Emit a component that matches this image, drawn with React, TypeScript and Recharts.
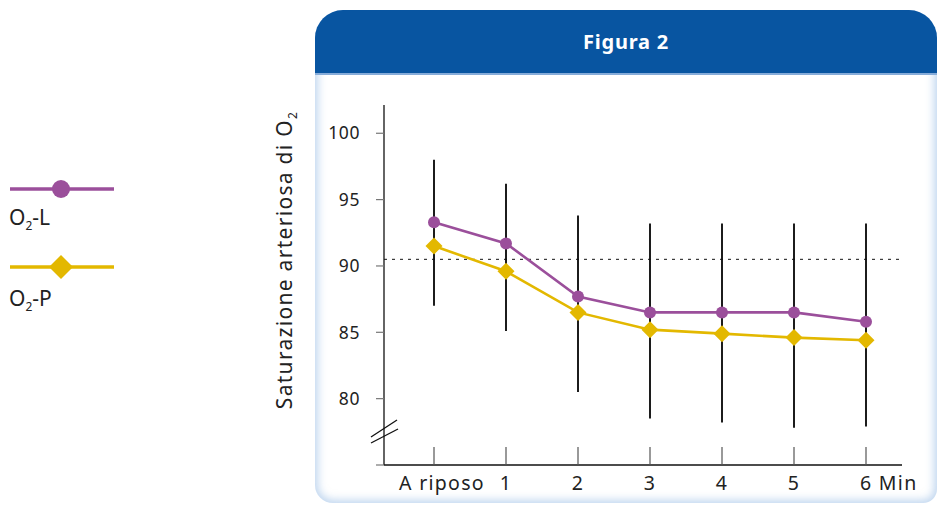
import React from "react"
import {
  ComposedChart,
  Bar,
  Line,
  XAxis,
  YAxis,
  ReferenceLine,
  Label,
} from "recharts"

const categories = ["A riposo", "1", "2", "3", "4", "5", "6 Min"]
const o2L = [93.3, 91.7, 87.7, 86.5, 86.5, 86.5, 85.8]
const o2P = [91.5, 89.6, 86.5, 85.2, 84.9, 84.6, 84.4]
const errLow = [87.0, 85.1, 80.5, 78.5, 78.2, 77.8, 77.9]
const errHigh = [98.0, 96.2, 93.8, 93.2, 93.2, 93.2, 93.2]
const yTicks = [75, 80, 85, 90, 95, 100]
const refLevel = 90.5

const PURPLE = "#9b4f9b"
const YELLOW = "#e3b800"
const FONT = "'Noto Sans', sans-serif"

const data = categories.map((name, i) => ({
  name,
  L: o2L[i],
  P: o2P[i],
  err: [errLow[i], errHigh[i]],
}))

const Diamond = (props: any) => {
  const { cx, cy, index } = props
  if (cx == null || cy == null) return null
  const s = 8.5
  return (
    <polygon
      key={`dia-${index}`}
      points={`${cx},${cy - s} ${cx + s},${cy} ${cx},${cy + s} ${cx - s},${cy}`}
      fill={YELLOW}
    />
  )
}

const XTick = (props: any) => {
  const { x, y, payload } = props
  const label: string = payload.value
  let anchor: "middle" | "start" = "middle"
  let tx = x
  if (label === "A riposo") tx = x + 8
  if (label === "6 Min") {
    anchor = "start"
    tx = x - 6
  }
  return (
    <g>
      <line x1={x} x2={x} y1={y - 18} y2={y} stroke="#555" strokeWidth={1.2} />
      <text
        x={tx}
        y={y + 25}
        textAnchor={anchor}
        fill="#222"
        fontSize={19.5}
        fontFamily={FONT}
        letterSpacing={1.3}
      >
        {label}
      </text>
    </g>
  )
}

const YTitle = (props: any) => {
  const { viewBox } = props
  const x = viewBox.x + 28
  const y = viewBox.y + viewBox.height / 2 - 25
  return (
    <text
      x={x}
      y={y}
      transform={`rotate(-90 ${x} ${y})`}
      textAnchor="middle"
      fill="#222"
      fontSize={21}
      fontFamily={FONT}
      letterSpacing={1.3}
    >
      Saturazione arteriosa di O
      <tspan fontSize={12} dy={5}>
        2
      </tspan>
    </text>
  )
}

function LegendBox() {
  return (
    <svg
      width={130}
      height={320}
      style={{ position: "absolute", left: 0, top: 0 }}
    >
      <line x1={10} x2={114} y1={189} y2={189} stroke={PURPLE} strokeWidth={3.5} />
      <circle cx={61} cy={189} r={9} fill={PURPLE} />
      <text x={9} y={225} fontSize={21} fill="#222" fontFamily={FONT}>
        O<tspan fontSize={12} dy={5}>2</tspan>
        <tspan dy={-5}>-L</tspan>
      </text>
      <line x1={10} x2={114} y1={267} y2={267} stroke={YELLOW} strokeWidth={3.5} />
      <polygon points="61,255 73,267 61,279 49,267" fill={YELLOW} />
      <text x={9} y={306} fontSize={21} fill="#222" fontFamily={FONT}>
        O<tspan fontSize={12} dy={5}>2</tspan>
        <tspan dy={-5}>-P</tspan>
      </text>
    </svg>
  )
}

export default function App() {
  return (
    <div
      style={{
        position: "absolute",
        left: 0,
        top: 0,
        width: 940,
        height: 507,
        background: "#fff",
        overflow: "hidden",
        fontFamily: FONT,
      }}
    >
      <div
        style={{
          position: "absolute",
          left: 315,
          top: 10,
          width: 622,
          height: 493,
          borderRadius: "28px 28px 14px 18px",
          background: "#fff",
          boxShadow: "inset 0 0 9px 3px rgba(140,180,225,0.55)",
          overflow: "hidden",
        }}
      >
        <div
          style={{
            height: 63,
            background: "#0855a1",
            borderBottom: "2px solid #86acd9",
            color: "#fff",
            fontWeight: 700,
            fontSize: 20,
            textAlign: "center",
            lineHeight: "63px",
            letterSpacing: 0.8,
          }}
        >
          Figura 2
        </div>
      </div>
      <LegendBox />
      <div style={{ position: "absolute", left: 0, top: 0 }}>
        <ComposedChart
          width={940}
          height={507}
          data={data}
          margin={{ top: 105, right: 38, bottom: 0, left: 264 }}
        >
          <XAxis
            dataKey="name"
            height={42}
            padding={{ left: 14, right: 0 }}
            axisLine={{ stroke: "#111", strokeWidth: 1.3 }}
            tickLine={false}
            tickSize={0}
            tickMargin={0}
            tick={<XTick />}
            interval={0}
          />
          <YAxis
            width={120}
            domain={[75, 102.13]}
            allowDataOverflow
            ticks={yTicks}
            tickFormatter={(v: number) => (v === 75 ? "" : String(v))}
            axisLine={{ stroke: "#111", strokeWidth: 1.3 }}
            tickLine={{ stroke: "#777", strokeWidth: 1.2 }}
            tickSize={8}
            tickMargin={16}
            tick={{ fill: "#222", fontSize: 17.5, fontFamily: FONT, letterSpacing: 0.6 }}
          >
            <Label content={<YTitle />} />
          </YAxis>
          <ReferenceLine
            y={refLevel}
            stroke="#111"
            strokeWidth={1}
            strokeDasharray="3 5"
          />
          <Bar dataKey="err" barSize={2} fill="#1c1c1c" isAnimationActive={false} />
          <Line
            dataKey="P"
            stroke={YELLOW}
            strokeWidth={2.6}
            dot={<Diamond />}
            activeDot={false}
            isAnimationActive={false}
          />
          <Line
            dataKey="L"
            stroke={PURPLE}
            strokeWidth={2.6}
            dot={{ r: 6, fill: PURPLE, stroke: "none" }}
            activeDot={false}
            isAnimationActive={false}
          />
        </ComposedChart>
      </div>
      <svg
        width={40}
        height={40}
        style={{ position: "absolute", left: 365, top: 415 }}
      >
        <line x1={6} y1={22} x2={32} y2={5} stroke="#111" strokeWidth={1.3} />
        <line x1={6} y1={28} x2={33} y2={14} stroke="#111" strokeWidth={1.3} />
      </svg>
    </div>
  )
}
